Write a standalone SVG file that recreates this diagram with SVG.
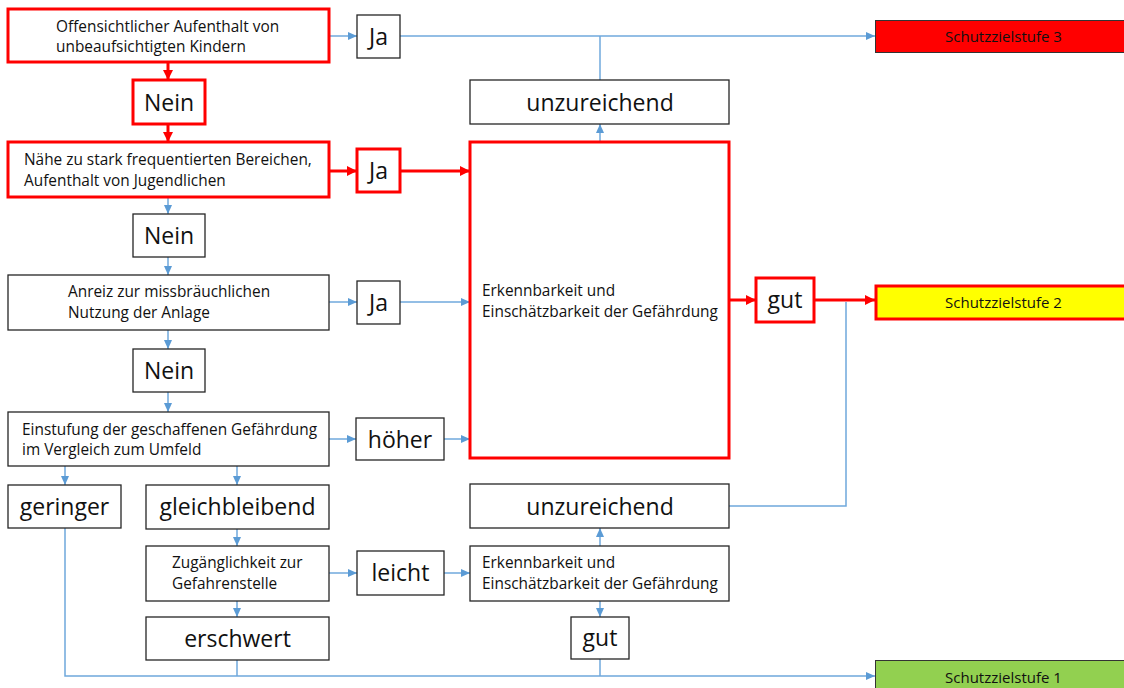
<svg xmlns="http://www.w3.org/2000/svg" width="1124" height="688" viewBox="0 0 1124 688">
<defs>
<marker id="ab" markerUnits="userSpaceOnUse" markerWidth="10" markerHeight="10" refX="9" refY="4" orient="auto"><path d="M0,0 L9,4 L0,8 z" fill="#5b9bd5"/></marker>
<marker id="ar" markerUnits="userSpaceOnUse" markerWidth="12" markerHeight="12" refX="10" refY="5" orient="auto"><path d="M0,0 L10,5 L0,10 z" fill="#ff0000"/></marker>
<style>
.b{fill:#fff;stroke:#262626;stroke-width:1.3}
.r{fill:#fff;stroke:#ff0000;stroke-width:3}
.s{font-family:"Open Sans","Liberation Sans",sans-serif;font-size:15.4px;fill:#111}
.z{font-family:"Open Sans","Liberation Sans",sans-serif;font-size:15px;fill:#111;text-anchor:middle}
.L{font-family:"Open Sans","Liberation Sans",sans-serif;font-size:23px;fill:#111;text-anchor:middle}
.cb{fill:none;stroke:#6fa8dc;stroke-width:1.5}
.cr{fill:none;stroke:#ff0000;stroke-width:3}
</style>
</defs>
<rect width="1124" height="688" fill="#fff"/>
<g id="connectors">
<path class="cb" d="M329,36 H357" marker-end="url(#ab)"/>
<path class="cb" d="M400,36 H875" marker-end="url(#ab)"/>
<path class="cb" d="M600,80 V36"/>
<path class="cb" d="M600,142 V124" marker-end="url(#ab)"/>
<path class="cb" d="M168,197 V214" marker-end="url(#ab)"/>
<path class="cb" d="M168,257 V275" marker-end="url(#ab)"/>
<path class="cb" d="M329,302 H357" marker-end="url(#ab)"/>
<path class="cb" d="M400,302 H470" marker-end="url(#ab)"/>
<path class="cb" d="M168,330 V349" marker-end="url(#ab)"/>
<path class="cb" d="M168,392 V412" marker-end="url(#ab)"/>
<path class="cb" d="M329,439 H356" marker-end="url(#ab)"/>
<path class="cb" d="M444,439 H470" marker-end="url(#ab)"/>
<path class="cb" d="M65,466 V485" marker-end="url(#ab)"/>
<path class="cb" d="M237,466 V485" marker-end="url(#ab)"/>
<path class="cb" d="M237,529 V546" marker-end="url(#ab)"/>
<path class="cb" d="M329,573 H357" marker-end="url(#ab)"/>
<path class="cb" d="M444,573 H470" marker-end="url(#ab)"/>
<path class="cb" d="M237,601 V617" marker-end="url(#ab)"/>
<path class="cb" d="M600,546 V528" marker-end="url(#ab)"/>
<path class="cb" d="M600,601 V617" marker-end="url(#ab)"/>
<path class="cb" d="M729,506 H846 V302"/>
<path class="cb" d="M65,528 V676 H875" marker-end="url(#ab)"/>
<path class="cb" d="M237,660 V676"/>
<path class="cb" d="M600,659 V676"/>
<path class="cr" d="M168,62 V80" marker-end="url(#ar)"/>
<path class="cr" d="M168,124 V142" marker-end="url(#ar)"/>
<path class="cr" d="M329,171 H357" marker-end="url(#ar)"/>
<path class="cr" d="M400,171 H470" marker-end="url(#ar)"/>
<path class="cr" d="M729,300 H756" marker-end="url(#ar)"/>
<path class="cr" d="M814,300 H875" marker-end="url(#ar)"/>
</g>
<g id="q1"><rect class="r" x="8" y="9" width="321" height="53"/><text class="s" x="56" y="31.5">Offensichtlicher Aufenthalt von</text><text class="s" x="56" y="52">unbeaufsichtigten Kindern</text></g>
<g id="ja1"><rect class="b" x="357" y="15" width="43" height="43"/><text class="L" x="378.5" y="44.5">Ja</text></g>
<g id="nein1"><rect class="r" x="133" y="80" width="72" height="44"/><text class="L" x="169" y="110.5">Nein</text></g>
<g id="q2"><rect class="r" x="8" y="142" width="321" height="55"/><text class="s" x="24" y="165">Nähe zu stark frequentierten Bereichen,</text><text class="s" x="24" y="185.5">Aufenthalt von Jugendlichen</text></g>
<g id="ja2"><rect class="r" x="357" y="149" width="43" height="43"/><text class="L" x="378.5" y="178.5">Ja</text></g>
<g id="nein2"><rect class="b" x="133" y="214" width="72" height="43"/><text class="L" x="169" y="244">Nein</text></g>
<g id="q3"><rect class="b" x="8" y="275" width="321" height="55"/><text class="s" x="68" y="296.5">Anreiz zur missbräuchlichen</text><text class="s" x="68" y="318">Nutzung der Anlage</text></g>
<g id="ja3"><rect class="b" x="357" y="281" width="43" height="43"/><text class="L" x="378.5" y="310.5">Ja</text></g>
<g id="nein3"><rect class="b" x="133" y="349" width="72" height="43"/><text class="L" x="169" y="379">Nein</text></g>
<g id="q4"><rect class="b" x="8" y="412" width="321" height="54"/><text class="s" x="22" y="435">Einstufung der geschaffenen Gefährdung</text><text class="s" x="22" y="455">im Vergleich zum Umfeld</text></g>
<g id="hoeher"><rect class="b" x="356" y="418" width="88" height="42"/><text class="L" x="400" y="447.5">höher</text></g>
<g id="unz1"><rect class="b" x="470" y="80" width="259" height="44"/><text class="L" x="600" y="110.5">unzureichend</text></g>
<g id="erk1"><rect class="r" x="470" y="142" width="259" height="316"/><text class="s" x="482" y="295.5">Erkennbarkeit und</text><text class="s" x="482" y="317">Einschätzbarkeit der Gefährdung</text></g>
<g id="gut1"><rect class="r" x="756" y="278" width="58" height="44"/><text class="L" x="785" y="307.5">gut</text></g>
<g id="sz3"><rect x="875.5" y="20.5" width="260" height="32" fill="#ff0000" stroke="#333" stroke-width="1"/><text class="z" x="1003.5" y="42">Schutzzielstufe 3</text></g>
<g id="sz2"><rect x="876" y="286" width="260" height="33" fill="#ffff00" stroke="#ff0000" stroke-width="3"/><text class="z" x="1003.5" y="308">Schutzzielstufe 2</text></g>
<g id="sz1"><rect x="875.5" y="660.5" width="260" height="40" fill="#92d050" stroke="#333" stroke-width="1"/><text class="z" x="1003.5" y="683">Schutzzielstufe 1</text></g>
<g id="geringer"><rect class="b" x="8" y="485" width="113" height="43"/><text class="L" x="64.5" y="514.5">geringer</text></g>
<g id="gleich"><rect class="b" x="146" y="485" width="183" height="44"/><text class="L" x="237.5" y="515">gleichbleibend</text></g>
<g id="zug"><rect class="b" x="146" y="546" width="183" height="55"/><text class="s" x="172" y="568">Zugänglichkeit zur</text><text class="s" x="172" y="588.5">Gefahrenstelle</text></g>
<g id="leicht"><rect class="b" x="357" y="551" width="87" height="44"/><text class="L" x="400.5" y="581">leicht</text></g>
<g id="erschwert"><rect class="b" x="146" y="617" width="183" height="43"/><text class="L" x="237.5" y="646.5">erschwert</text></g>
<g id="unz2"><rect class="b" x="470" y="484" width="259" height="44"/><text class="L" x="600" y="514.5">unzureichend</text></g>
<g id="erk2"><rect class="b" x="470" y="546" width="259" height="55"/><text class="s" x="482" y="567.5">Erkennbarkeit und</text><text class="s" x="482" y="589">Einschätzbarkeit der Gefährdung</text></g>
<g id="gut2"><rect class="b" x="571" y="617" width="58" height="42"/><text class="L" x="600" y="646">gut</text></g>
</svg>
